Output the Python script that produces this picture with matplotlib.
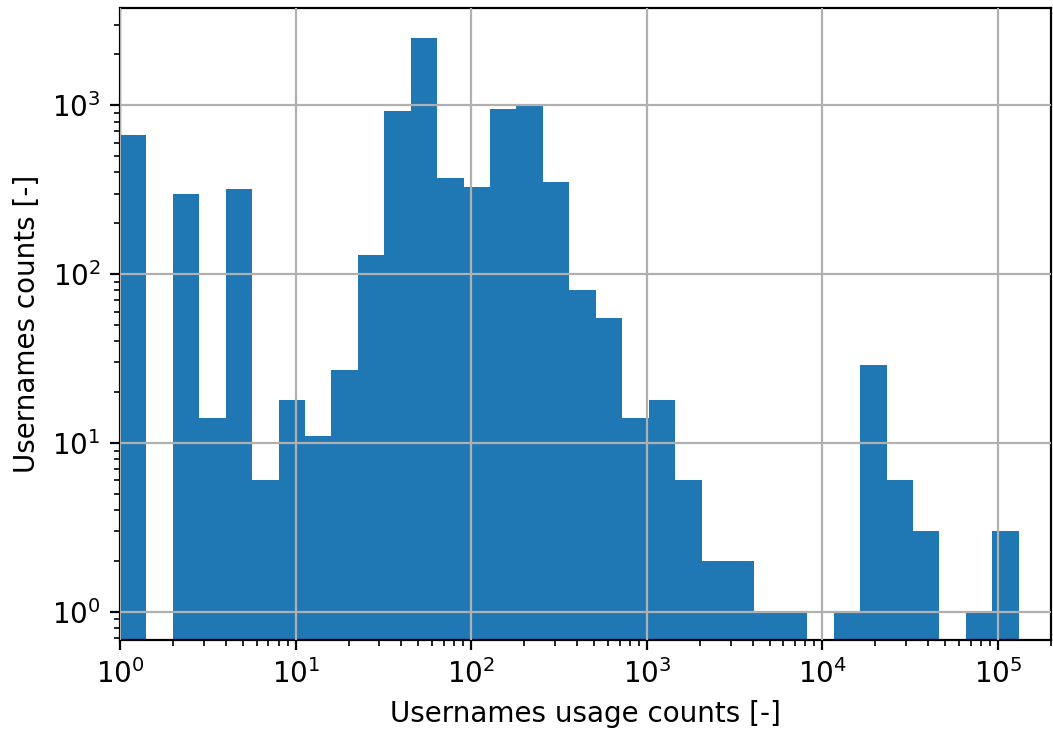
import numpy as np
import matplotlib.pyplot as plt

# log-spaced bins: edges 2**(k/2)
bin_edges = 2.0 ** (np.arange(0, 35) / 2)
counts = [670, 0, 300, 14, 320, 6, 18, 11, 27, 130,
          920, 2500, 370, 330, 950, 990, 350, 80, 55, 14,
          18, 6, 2, 2, 1, 1, 0, 1, 29, 6,
          3, 0, 1, 3]

centers = np.sqrt(bin_edges[:-1] * bin_edges[1:])

fig = plt.figure(figsize=(5.265, 3.655), dpi=200)
ax = fig.add_axes([0.114, 0.1245, 0.884, 0.864])
ax.hist(centers, bins=bin_edges, weights=counts, color='#1f77b4')
ax.set_xscale('log')
ax.set_yscale('log')
ax.set_xlim(1, 2e5)
ax.set_ylim(0.68, 3750)
ax.grid(True, color='#b0b0b0')
ax.set_axisbelow(False)
ax.set_xlabel('Usernames usage counts [-]')
ax.set_ylabel('Usernames counts [-]')

fig.savefig('out.png')
